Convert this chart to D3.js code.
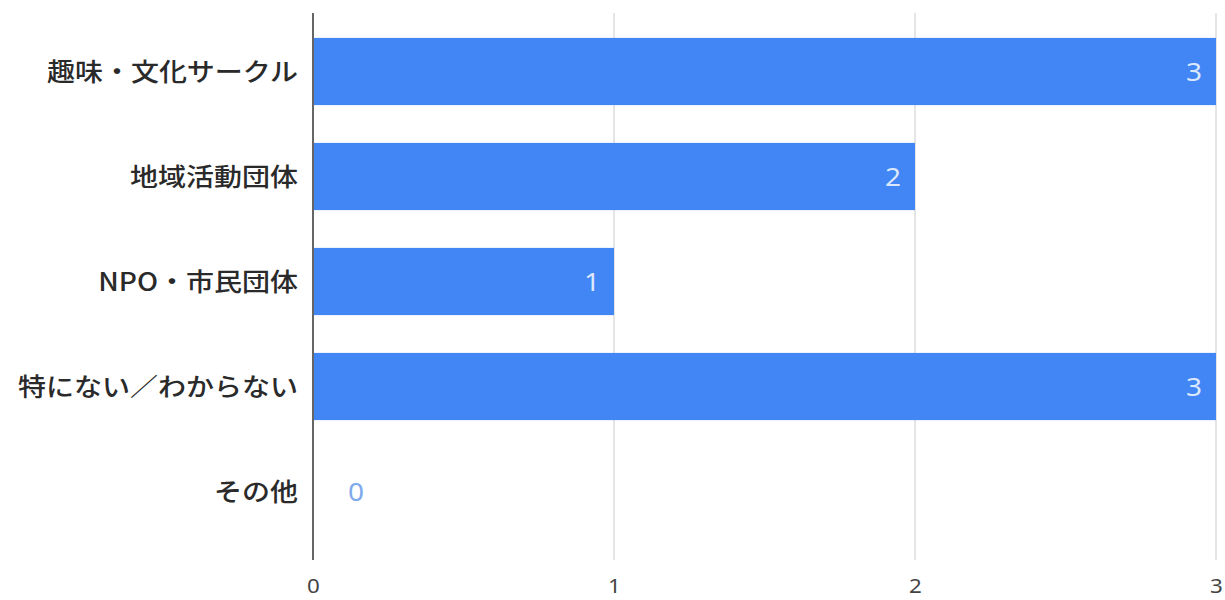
<!DOCTYPE html>
<html>
<head>
<meta charset="utf-8">
<script src="https://cdn.jsdelivr.net/npm/d3@7"></script>
<style>
  body { margin: 0; background: #fff; }
  svg text { font-family: "Noto Sans CJK JP", "Noto Sans", sans-serif; }
</style>
</head>
<body>
<div class="chart"></div>
<script>
// Data
const categories = ['趣味・文化サークル', '地域活動団体', 'NPO・市民団体', '特にない／わからない', 'その他']
const counts = [3, 2, 1, 3, 0]
const xTicks = [0, 1, 2, 3]

// Dimensions
const dimensions = {
    width: 1225,
    height: 600,
    left: 313,
    right: 8,
    top: 13,
    bottom: 40
}
dimensions.ctrWidth = dimensions.width - dimensions.left - dimensions.right
dimensions.ctrHeight = dimensions.height - dimensions.top - dimensions.bottom

// the source picture is a bit wider than tall, so text is stretched sideways
const stretch = 1.12

const svg = d3.select('.chart')
    .append('svg')
    .attr('width', dimensions.width)
    .attr('height', dimensions.height)

const ctr = svg.append('g')
    .attr('transform', `translate(${dimensions.left}, ${dimensions.top})`)

const xScale = d3.scaleLinear()
    .domain([0, 3])
    .range([0, dimensions.ctrWidth - 1])

const yScale = d3.scaleBand()
    .domain(categories)
    .range([6, 531])
    .paddingInner(0.36)
    .paddingOuter(0.18)

// gridlines
ctr.append('g')
    .selectAll('line')
    .data(xTicks.slice(1))
    .join('line')
    .attr('x1', d => xScale(d))
    .attr('x2', d => xScale(d))
    .attr('y1', 0)
    .attr('y2', dimensions.ctrHeight)
    .attr('stroke', '#dcdcdc')
    .attr('stroke-width', 1.5)

// x tick labels
const xAxis = d3.axisBottom(xScale)
    .tickValues(xTicks)
    .tickFormat(d3.format('d'))
    .tickSize(0)
    .tickPadding(19)

ctr.append('g')
    .attr('transform', `translate(0, ${dimensions.ctrHeight})`)
    .call(xAxis)
    .call(g => g.select('.domain').remove())
    .call(g => g.selectAll('text')
        .attr('font-size', 20)
        .attr('fill', '#444')
        .attr('transform', `scale(${stretch}, 1)`)
        .style('font-family', '"Noto Sans", sans-serif'))

// bars
ctr.selectAll('rect.bar')
    .data(categories)
    .join('rect')
    .classed('bar', true)
    .attr('x', 0)
    .attr('y', d => yScale(d))
    .attr('width', (d, i) => xScale(counts[i]))
    .attr('height', yScale.bandwidth())
    .attr('fill', '#4285f4')

// value labels
ctr.append('g')
    .selectAll('text')
    .data(categories)
    .join('text')
    .attr('transform', (d, i) => {
        const x = counts[i] > 0 ? xScale(counts[i]) - 14 : 35
        const y = yScale(d) + yScale.bandwidth() / 2
        return `translate(${x}, ${y}) scale(${stretch}, 1)`
    })
    .attr('dy', '0.36em')
    .attr('text-anchor', (d, i) => counts[i] > 0 ? 'end' : 'start')
    .attr('font-size', 25)
    .attr('fill', (d, i) => counts[i] > 0 ? '#dce8fd' : '#7ea9ea')
    .style('font-family', '"Noto Sans", sans-serif')
    .text((d, i) => counts[i])

// category labels
ctr.append('g')
    .selectAll('text')
    .data(categories)
    .join('text')
    .attr('transform', d => `translate(-15, ${yScale(d) + yScale.bandwidth() / 2}) scale(${stretch}, 1)`)
    .attr('dy', '0.36em')
    .attr('text-anchor', 'end')
    .attr('font-size', 25)
    .attr('font-weight', 500)
    .attr('fill', '#2a2a2a')
    .text(d => d)

// axis line
ctr.append('line')
    .attr('x1', 0)
    .attr('x2', 0)
    .attr('y1', 0)
    .attr('y2', dimensions.ctrHeight)
    .attr('stroke', '#666')
    .attr('stroke-width', 2)
</script>
</body>
</html>
